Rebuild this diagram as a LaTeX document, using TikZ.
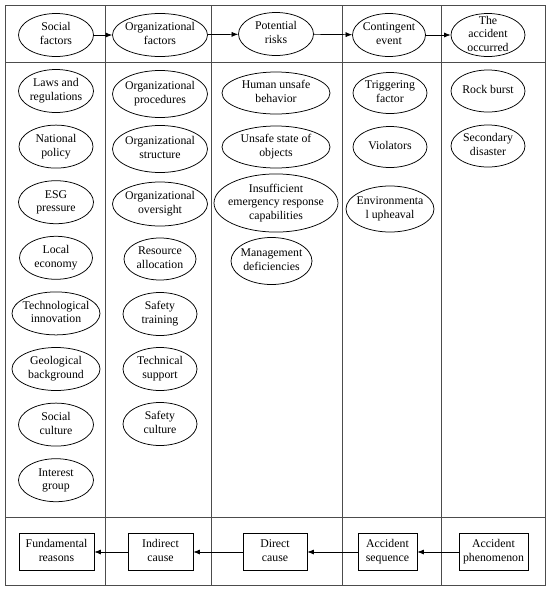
\documentclass[tikz,border=0pt]{standalone}
\usepackage{fontspec}
\setmainfont{Liberation Serif}
\usetikzlibrary{positioning}
\usetikzlibrary{shapes.geometric}
\usetikzlibrary{graphs}
\usetikzlibrary{arrows.meta}
\tikzset{
    ell/.style={draw, ellipse, line width=0.75pt, inner sep=0pt, minimum height=43pt},
    cause/.style={draw, rectangle, line width=0.75pt, inner sep=0pt, minimum height=37pt},
    frame/.style={draw=black!70, line width=1pt}
}
\newcommand{\eltext}[1]{\makebox[0pt]{\begin{tabular}{@{}c@{}}#1\end{tabular}}}

\begin{document}
\begin{tikzpicture}[x=1pt, y=-1pt, on grid, >={Latex[length=6.5pt,width=5pt]},
        font=\fontsize{11.8}{13.7}\selectfont]
            \useasboundingbox (0,0) rectangle (550,590);
            % table lines
            \draw[frame] (5,5) rectangle (545,585);
            \draw[frame] (5,62) -- (545,62);
            \draw[frame] (5,517) -- (545,517);
            \foreach \x in {105,211,342,441}
                \draw[frame] (\x,5) -- (\x,585);

            % header row
            \node (socf)  [ell, minimum width=75pt] at (56,35)  {\eltext{Social\\factors}};
            \node (orgf)  [ell, minimum width=95pt] at (160,35) {\eltext{Organizational\\factors}};
            \node (risk)  [ell, minimum width=75pt] at (276,34) {\eltext{Potential\\risks}};
            \node (event) [ell, minimum width=73pt] at (389,35) {\eltext{Contingent\\event}};
            \node (occ)   [ell, minimum width=74pt, inner ysep=-7pt] at (488,35) {\eltext{The\\accident\\occurred}};

            % social factors
            \node (laws)       [ell, minimum width=75pt] at (56,91)       {\eltext{Laws and\\regulations}};
            \node (policy)     [ell, minimum width=74pt, below=55.6pt of laws]       {\eltext{National\\policy}};
            \node (esg)        [ell, minimum width=75pt, below=55.6pt of policy]     {\eltext{ESG\\pressure}};
            \node (economy)    [ell, minimum width=73pt, below=55.6pt of esg]        {\eltext{Local\\economy}};
            \node (innovation) [ell, minimum width=88pt, below=55.6pt of economy]    {\eltext{Technological\\innovation}};
            \node (geology)    [ell, minimum width=88pt, below=55.6pt of innovation] {\eltext{Geological\\background}};
            \node (culture)    [ell, minimum width=75pt, below=55.6pt of geology]    {\eltext{Social\\culture}};
            \node (interest)   [ell, minimum width=75pt, below=55.6pt of culture]    {\eltext{Interest\\group}};

            % organizational factors
            \node (procedures) [ell, minimum width=95pt, minimum height=47pt] at (160,94) {\eltext{Organizational\\procedures}};
            \node (structure)  [ell, minimum width=95pt, minimum height=47pt, below=55pt of procedures] {\eltext{Organizational\\structure}};
            \node (oversight)  [ell, minimum width=95pt, minimum height=44pt, below=55pt of structure]  {\eltext{Organizational\\oversight}};
            \node (resource)   [ell, minimum width=72pt, minimum height=42pt, below=55pt of oversight]  {\eltext{Resource\\allocation}};
            \node (training)   [ell, minimum width=74pt, below=55pt of resource] {\eltext{Safety\\training}};
            \node (support)    [ell, minimum width=74pt, below=55pt of training] {\eltext{Technical\\support}};
            \node (safetyc)    [ell, minimum width=74pt, below=55pt of support]  {\eltext{Safety\\culture}};

            % potential risks
            \node (human)  [ell, minimum width=108pt, minimum height=42pt] at (276,93) {\eltext{Human unsafe\\behavior}};
            \node (unsafe) [ell, minimum width=108pt, minimum height=42pt, below=54pt of human] {\eltext{Unsafe state of\\objects}};
            \node (insuff) [ell, minimum width=124pt, below=56pt of unsafe] {\eltext{Insufficient\\emergency response\\capabilities}};
            \node (mgmt)   [ell, minimum width=81pt, minimum height=47pt, below left=58pt and 4.5pt of insuff] {\eltext{Management\\deficiencies}};

            % contingent event
            \node (trigger)   [ell, minimum width=74pt, minimum height=41pt] at (390,93) {\eltext{Triggering\\factor}};
            \node (violators) [ell, minimum width=74pt, minimum height=41pt, below=54pt of trigger] {\eltext{Violators}};
            \node (environ)   [ell, minimum width=88pt, minimum height=46pt, below=62pt of violators] {\eltext{Environmenta\\l upheaval}};

            % accident occurred
            \node (rock)      [ell, minimum width=74pt, minimum height=42pt] at (488,91) {\eltext{Rock burst}};
            \node (secondary) [ell, minimum width=74pt, minimum height=42pt, below=55pt of rock] {\eltext{Secondary\\disaster}};

            % cause row
            \node (fund)     [cause, minimum width=75pt] at (56.5,552)  {\eltext{Fundamental\\reasons}};
            \node (indirect) [cause, minimum width=65pt] at (160.5,552) {\eltext{Indirect\\cause}};
            \node (direct)   [cause, minimum width=64pt] at (275,552)   {\eltext{Direct\\cause}};
            \node (seq)      [cause, minimum width=59pt] at (387.5,552) {\eltext{Accident\\sequence}};
            \node (phen)     [cause, minimum width=69pt] at (493.5,552) {\eltext{Accident\\phenomenon}};

            \graph[edges={line width=0.7pt}]{
                (socf) -> (orgf) -> (risk) -> (event) -> (occ);
                (phen) -> (seq) -> (direct) -> (indirect) -> (fund);
            };
        \end{tikzpicture}
\end{document}
